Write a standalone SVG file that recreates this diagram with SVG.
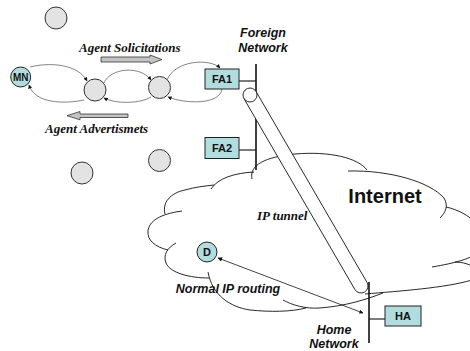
<svg xmlns="http://www.w3.org/2000/svg" width="470" height="351" viewBox="0 0 470 351">
  <style>
    .cloud { fill: none; stroke: #111; stroke-width: 0.9; }
    .bus { stroke: #111; stroke-width: 1.6; fill: none; }
    .stub { stroke: #111; stroke-width: 1.1; fill: none; }
    .agent { fill: #b2dddf; stroke: #222; stroke-width: 1; }
    .host { fill: #e3e3e3; stroke: #333; stroke-width: 1; }
    .arc { fill: none; stroke: #333; stroke-width: 0.6; marker-end: url(#tip); }
    .big { fill: #c4c4c4; stroke: #333; stroke-width: 0.8; }
    .lbl { font-family: "Liberation Sans", Arial, sans-serif; font-weight: bold; fill: #111; text-anchor: middle; }
    .net { font-family: "Liberation Sans", Arial, sans-serif; font-weight: bold; font-style: italic; font-size: 12.5px; fill: #111; text-anchor: middle; }
    .serif { font-family: "Liberation Serif", "Times New Roman", serif; font-weight: bold; font-style: italic; font-size: 13px; fill: #111; }
  </style>
  <defs>
    <marker id="tip" viewBox="0 0 10 10" refX="9" refY="5" markerUnits="userSpaceOnUse" markerWidth="4.5" markerHeight="4" orient="auto">
      <path d="M0,0 L10,5 L0,10 Z" fill="#111"/>
    </marker>
    <marker id="tipStart" viewBox="0 0 10 10" refX="1" refY="5" markerUnits="userSpaceOnUse" markerWidth="5" markerHeight="4.5" orient="auto">
      <path d="M10,0 L0,5 L10,10 Z" fill="#111"/>
    </marker>
  </defs>

  <rect width="470" height="351" fill="#fff"/>

  <!-- Internet cloud -->
  <g id="internet">
    <path class="cloud" d="M209,278 C190,278 170,273 166,263 C163,255 167,248 176,243"/>
    <path class="cloud" d="M168,250 C155,247 147,240 148,231 C149,221 160,214 182,211"/>
    <path class="cloud" d="M165,214 C162,203 170,193 185,190 C195,187 205,186 214,185"/>
    <path class="cloud" d="M211,189 C218,178 235,173 254,172"/>
    <path class="cloud" d="M252,179 C249,165 265,157 295,154 C330,151 358,158 367,170"/>
    <path class="cloud" d="M348,171 C390,170 430,182 444,198 C449,206 445,213 440,218"/>
    <path class="cloud" d="M446,207 C470,212 490,232 484,246 C478,258 455,263 432,267"/>
    <path class="cloud" d="M455,262 C470,262 488,272 472,280 C445,288 400,291 365,294"/>
    <path class="cloud" d="M383,293 C365,300 345,306 320,308 C305,309 292,305 283,300"/>
    <path class="cloud" d="M306,308 C290,312 270,312 250,310 C230,307 212,295 208,272"/>
    <text class="lbl" x="385" y="203" font-size="20">Internet</text>
  </g>

  <!-- Networks (bus lines) -->
  <g id="foreign-network">
    <line class="bus" x1="256" y1="64" x2="256" y2="170"/>
    <line class="stub" x1="239" y1="81" x2="256" y2="81"/>
    <line class="stub" x1="239" y1="150" x2="256" y2="150"/>
    <text class="net" x="263" y="37">Foreign</text>
    <text class="net" x="263" y="51.5">Network</text>
  </g>
  <g id="home-network">
    <line class="bus" x1="369" y1="282" x2="369" y2="343"/>
    <line class="stub" x1="369" y1="319" x2="385" y2="319"/>
    <text class="net" x="334" y="334" font-size="12">Home</text>
    <text class="net" x="334" y="347.5" font-size="12">Network</text>
  </g>

  <!-- Tunnel between home and foreign network -->
  <g id="ip-tunnel">
    <path d="M256.05,91.5 L367.05,282.5 A7,7 0 0 1 354.9,289.5 L243.9,98.5 Z" fill="#fff" stroke="#111" stroke-width="0.9"/>
    <circle cx="250" cy="95" r="7" fill="#fff" stroke="#111" stroke-width="0.9"/>
    <text class="serif" x="257" y="220" font-size="12.5">IP tunnel</text>
  </g>

  <!-- Connectors -->
  <g id="connectors">
    <path class="arc" d="M30,67 C50,62 78,64 87,81"/>
    <path class="arc" d="M84,100 C65,104 35,104 29,85"/>
    <path class="arc" d="M104,83 C110,68 140,65 151,80"/>
    <path class="arc" d="M151,97 C140,104 115,104 104,98"/>
    <path class="arc" d="M167,80 C175,60 210,58 220,68"/>
    <path class="arc" d="M222,89 C220,105 185,104 168,97"/>
    <line x1="218" y1="258" x2="363" y2="313" stroke="#111" stroke-width="0.8" marker-start="url(#tipStart)" marker-end="url(#tip)"/>
    <text class="net" x="228" y="292.5" font-size="11.5">Normal IP routing</text>
  </g>

  <!-- Agent message arrows -->
  <g id="solicitations">
    <path class="big" d="M101,57 L150,57 L150,55 L162,59.5 L150,64 L150,62 L101,62 Z"/>
    <text class="serif" x="79" y="52">Agent Solicitations</text>
  </g>
  <g id="advertisements">
    <path class="big" d="M128,114 L80,114 L80,111.5 L67,115.7 L80,119.8 L80,117.5 L128,117.5 Z"/>
    <text class="serif" x="45" y="133">Agent Advertismets</text>
  </g>

  <!-- Hosts -->
  <g id="host-top"><circle class="host" cx="56" cy="18" r="11"/></g>
  <g id="host-a"><circle class="host" cx="95" cy="90" r="11"/></g>
  <g id="host-b"><circle class="host" cx="159.5" cy="87.5" r="11"/></g>
  <g id="host-c"><circle class="host" cx="159.5" cy="160.5" r="11"/></g>
  <g id="host-d"><circle class="host" cx="82" cy="173" r="11"/></g>

  <g id="mn">
    <circle class="agent" cx="20.7" cy="77" r="10"/>
    <text class="lbl" x="20.7" y="80.5" font-size="10">MN</text>
  </g>
  <g id="d">
    <circle class="agent" cx="207" cy="252" r="10"/>
    <text class="lbl" x="207" y="256" font-size="11">D</text>
  </g>

  <!-- Agents -->
  <g id="fa1">
    <rect class="agent" x="205" y="69" width="34" height="20"/>
    <text class="lbl" x="222" y="83" font-size="11">FA1</text>
  </g>
  <g id="fa2">
    <rect class="agent" x="205" y="137.5" width="34" height="21"/>
    <text class="lbl" x="222" y="152" font-size="11">FA2</text>
  </g>
  <g id="ha">
    <rect class="agent" x="385" y="306" width="36" height="20"/>
    <text class="lbl" x="403" y="320" font-size="11">HA</text>
  </g>
</svg>
